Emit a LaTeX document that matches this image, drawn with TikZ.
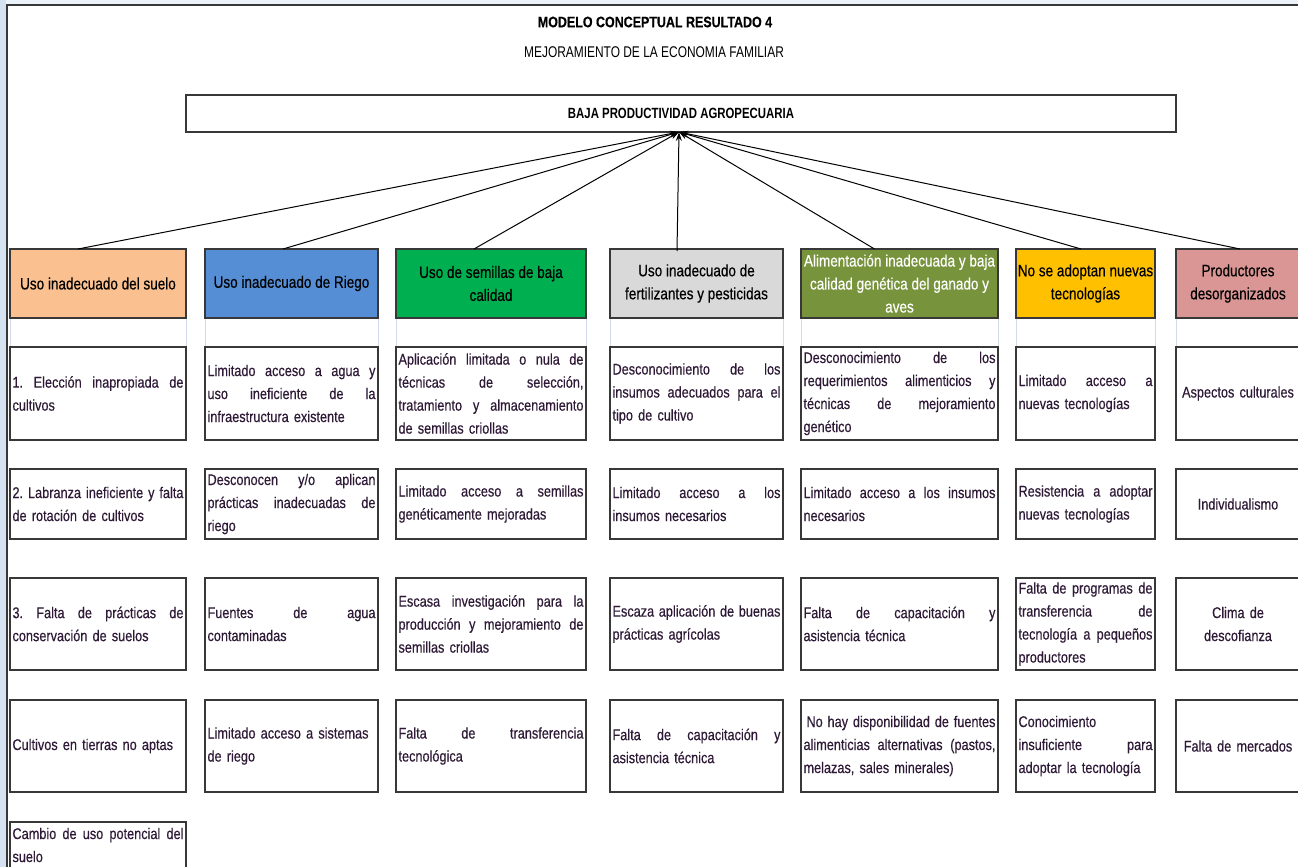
\documentclass[tikz,border=0pt]{standalone}
\usepackage{fontspec}
\setmainfont[FakeStretch=0.82, RawFeature={embolden=0.4}]{Liberation Sans}
\newfontfamily\capsnarrow[FakeStretch=0.77]{Liberation Sans}
\usetikzlibrary{arrows.meta}
\definecolor{cOrange}{HTML}{FAC08F}
\definecolor{cBlue}{HTML}{558ED5}
\definecolor{cGreen}{HTML}{00B050}
\definecolor{cGray}{HTML}{D9D9D9}
\definecolor{cOlive}{HTML}{77933C}
\definecolor{cYellow}{HTML}{FFC000}
\definecolor{cPink}{HTML}{D99694}
\definecolor{cLine}{HTML}{383838}
\definecolor{cText}{HTML}{2E1A36}
\definecolor{cEdge}{HTML}{D5E2F2}
\definecolor{cGrid}{HTML}{D0DAE8}
\newcommand{\J}[1]{\leavevmode\hbox to \hsize{\spaceskip=\fontdimen2\font plus 1fil\relax\xspaceskip=\spaceskip #1}}
\tikzset{
 box/.style={draw=cLine, line width=1.3pt, anchor=north west, inner sep=0pt, outer sep=0pt},
 cellbox/.style={box, font=\fontsize{15.5}{23}\selectfont, text=cText, align=left, inner xsep=2.5pt},
 ctrbox/.style={cellbox, align=center},
 head/.style={box, font=\fontsize{16.5}{23}\selectfont, align=center, minimum height=69pt, text=black},
 titlet/.style={text=black, inner sep=0pt},
 arr/.style={draw=black, line width=1pt, -{Stealth[length=9pt,width=6pt]}},
 cA/.style={minimum width=176pt, text width=171pt},
 cB/.style={minimum width=173pt, text width=168pt},
 cC/.style={minimum width=190pt, text width=185pt},
 cD/.style={minimum width=173pt, text width=168pt},
 cE/.style={minimum width=197pt, text width=192pt},
 cF/.style={minimum width=139pt, text width=134pt},
 cG/.style={minimum width=124pt, text width=119pt},
 rA/.style={minimum height=93pt},
 rB/.style={minimum height=70pt},
 rC/.style={minimum height=92pt},
 rD/.style={minimum height=92pt},
 rE/.style={minimum height=46pt},
}
\begin{document}
\begin{tikzpicture}[x=1pt,y=-1pt]
\useasboundingbox (0,0) rectangle (1298,867);
\clip (0,0) rectangle (1298,867);
\fill[white] (0,0) rectangle (1298,867);
\fill[cEdge] (0,0) rectangle (6,867);
\fill[cEdge!45] (6,0) rectangle (1298,4);
\draw[cLine, line width=2pt] (7,867) -- (7,5) -- (1298,5);
\foreach \gx in {10,186,205,378,396,586,610,783,801,998,1016,1155,1176}
  \draw[cGrid, line width=0.8pt] (\gx,318) -- (\gx,347);

% titles
\node[titlet, font=\fontsize{15.2}{18}\selectfont\bfseries] (t1) at (655,22) {MODELO CONCEPTUAL RESULTADO 4};
\node[titlet, font=\capsnarrow\fontsize{15.5}{18}\selectfont] (t2) at (654,52) {MEJORAMIENTO DE LA ECONOMIA FAMILIAR};
\node[box, minimum width=990pt, minimum height=37pt, font=\capsnarrow\fontsize{14.8}{18}\selectfont\bfseries] (top) at (186,95) {BAJA PRODUCTIVIDAD AGROPECUARIA};

% headers
\node[head, fill=cOrange, minimum width=176pt] (h1) at (10,249) {Uso inadecuado del suelo};
\node[head, fill=cBlue, minimum width=173pt] (h2) at (205,249) {Uso inadecuado de Riego};
\node[head, fill=cGreen, minimum width=190pt] (h3) at (396,249) {Uso de semillas de baja\\calidad};
\node[head, fill=cGray, minimum width=173pt] (h4) at (610,249) {Uso inadecuado de\\fertilizantes y pesticidas};
\node[head, fill=cOlive, minimum width=197pt, text=white] (h5) at (801,249) {Alimentación inadecuada y baja\\calidad genética del ganado y\\aves};
\node[head, fill=cYellow, minimum width=139pt] (h6) at (1016,249) {No se adoptan nuevas\\tecnologías};
\node[head, fill=cPink, minimum width=124pt] (h7) at (1176,249) {Productores\\desorganizados};

% arrows
\draw[arr] ([xshift=-20pt]h1.north) -- ([xshift=-2pt]top.south);
\draw[arr] ([xshift=-8.5pt]h2.north) -- ([xshift=-2pt]top.south);
\draw[arr] ([xshift=-17pt]h3.north) -- ([xshift=-2pt]top.south);
\draw[arr] ([xshift=-19.5pt,yshift=-2pt]h4.north) -- ([xshift=-2pt]top.south);
\draw[arr] ([xshift=-25pt]h5.north) -- ([xshift=-2pt]top.south);
\draw[arr] ([xshift=-4.5pt]h6.north) -- ([xshift=-2pt]top.south);
\draw[arr] ([xshift=2pt]h7.north) -- ([xshift=-2pt]top.south);

% column 1
\node[cellbox, cA, rA] (a1) at (10,347) {\J{1. Elección inapropiada de}\\cultivos};
\node[cellbox, cA, rB] (a2) at (10,469) {\J{2. Labranza ineficiente y falta}\\de rotación de cultivos};
\node[cellbox, cA, rC] (a3) at (10,578) {\J{3. Falta de prácticas de}\\conservación de suelos};
\node[cellbox, cA, rD] (a4) at (10,700) {Cultivos en tierras no aptas};
\node[cellbox, cA, rE] (a5) at (10,822) {\J{Cambio de uso potencial del}\\suelo};

% column 2
\node[cellbox, cB, rA] (b1) at (205,347) {\J{Limitado acceso a agua y}\\\J{uso ineficiente de la}\\infraestructura existente};
\node[cellbox, cB, rB] (b2) at (205,469) {\J{Desconocen y/o aplican}\\\J{prácticas inadecuadas de}\\riego};
\node[cellbox, cB, rC] (b3) at (205,578) {\J{Fuentes de agua}\\contaminadas};
\node[cellbox, cB, rD] (b4) at (205,700) {Limitado acceso a sistemas\\de riego};

% column 3
\node[cellbox, cC, rA] (c1) at (396,347) {\J{Aplicación limitada o nula de}\\\J{técnicas de selección,}\\\J{tratamiento y almacenamiento}\\de semillas criollas};
\node[cellbox, cC, rB] (c2) at (396,469) {\J{Limitado acceso a semillas}\\genéticamente mejoradas};
\node[cellbox, cC, rC] (c3) at (396,578) {\J{Escasa investigación para la}\\\J{producción y mejoramiento de}\\semillas criollas};
\node[cellbox, cC, rD] (c4) at (396,700) {\J{Falta de transferencia}\\tecnológica};

% column 4
\node[cellbox, cD, rA] (d1) at (610,347) {\J{Desconocimiento de los}\\\J{insumos adecuados para el}\\tipo de cultivo};
\node[cellbox, cD, rB] (d2) at (610,469) {\J{Limitado acceso a los}\\insumos necesarios};
\node[cellbox, cD, rC] (d3) at (610,578) {\J{Escaza aplicación de buenas}\\prácticas agrícolas};
\node[cellbox, cD, rD] (d4) at (610,700) {\J{Falta de capacitación y}\\asistencia técnica};

% column 5
\node[cellbox, cE, rA] (e1) at (801,347) {\J{Desconocimiento de los}\\\J{requerimientos alimenticios y}\\\J{técnicas de mejoramiento}\\genético};
\node[cellbox, cE, rB] (e2) at (801,469) {\J{Limitado acceso a los insumos}\\necesarios};
\node[cellbox, cE, rC] (e3) at (801,578) {\J{Falta de capacitación y}\\asistencia técnica};
\node[cellbox, cE, rD] (e4) at (801,700) {\J{\hspace*{3pt}No hay disponibilidad de fuentes}\\\J{alimenticias alternativas (pastos,}\\melazas, sales minerales)};

% column 6
\node[cellbox, cF, rA] (f1) at (1016,347) {\J{Limitado acceso a}\\nuevas tecnologías};
\node[cellbox, cF, rB] (f2) at (1016,469) {\J{Resistencia a adoptar}\\nuevas tecnologías};
\node[cellbox, cF, rC] (f3) at (1016,578) {\J{Falta de programas de}\\\J{transferencia de}\\\J{tecnología a pequeños}\\productores};
\node[cellbox, cF, rD] (f4) at (1016,700) {Conocimiento\\\J{insuficiente para}\\adoptar la tecnología};

% column 7
\node[ctrbox, cG, rA] (g1) at (1176,347) {Aspectos culturales};
\node[ctrbox, cG, rB] (g2) at (1176,469) {Individualismo};
\node[ctrbox, cG, rC] (g3) at (1176,578) {Clima de\\descofianza};
\node[ctrbox, cG, rD] (g4) at (1176,700) {Falta de mercados};
\end{tikzpicture}
\end{document}
